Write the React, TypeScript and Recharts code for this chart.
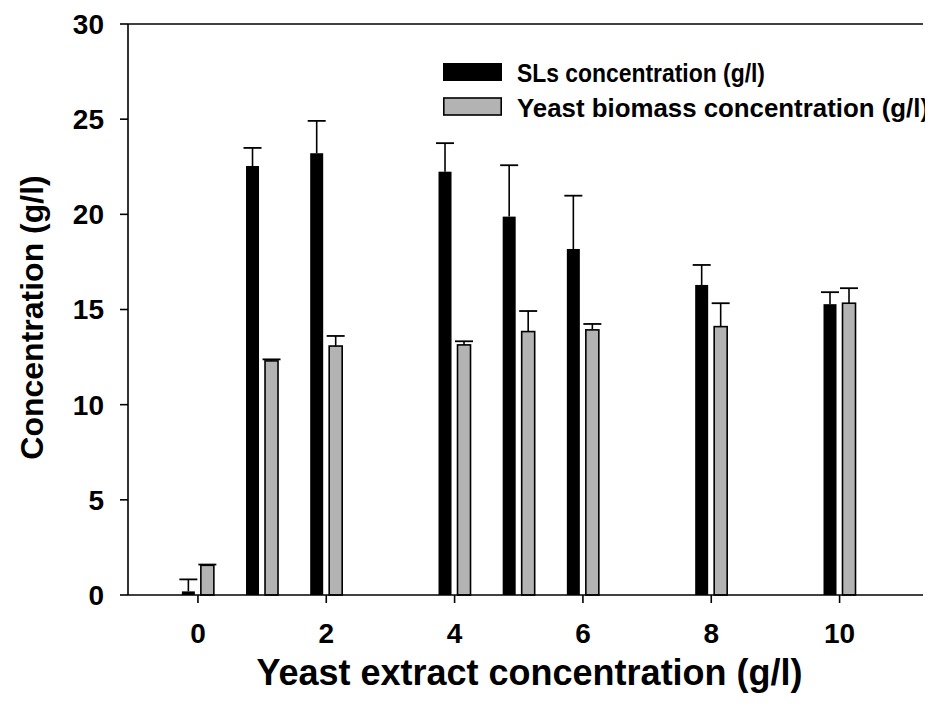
import React from "react";
import {
  ComposedChart,
  Bar,
  XAxis,
  YAxis,
  ReferenceLine,
  Legend,
} from "recharts";

// Yeast extract concentration (g/l) at which each pair of bars was measured
const yeastExtract = [0, 1, 2, 4, 5, 6, 8, 10];

// Sophorolipid (SLs) concentration, mean and standard deviation (g/l)
const slsMean = [0.19, 22.54, 23.21, 22.24, 19.88, 18.18, 16.29, 15.28];
const slsSd = [0.63, 0.95, 1.7, 1.5, 2.7, 2.8, 1.05, 0.63];

// Yeast biomass concentration, mean and standard deviation (g/l)
const biomassMean = [1.56, 12.3, 13.08, 13.14, 13.84, 13.93, 14.1, 15.33];
const biomassSd = [0.04, 0.08, 0.53, 0.19, 1.08, 0.31, 1.23, 0.79];

const xTicks = [0, 2, 4, 6, 8, 10];
const yTicks = [0, 5, 10, 15, 20, 25, 30];

const seriesNames = ["SLs concentration (g/l)", "Yeast biomass concentration (g/l)"];

const data = yeastExtract.map((x, i) => ({
  x,
  sls: slsMean[i],
  slsErr: slsSd[i],
  biomass: biomassMean[i],
  biomassErr: biomassSd[i],
}));

const FONT = "'Liberation Sans', Arial, Helvetica, sans-serif";

// Bar with an upward-only standard deviation whisker
const makeBarShape = (valueKey: string, errKey: string, fill: string, stroke?: string) =>
  (props: any) => {
    const { x, y, width, height, payload } = props;
    const value = payload[valueKey];
    const err = payload[errKey];
    const pxPerUnit = value ? height / value : 0;
    const errTop = y - err * pxPerUnit;
    const cx = x + width / 2;
    return (
      <g>
        <rect
          x={x}
          y={y}
          width={width}
          height={height}
          fill={fill}
          stroke={stroke || "none"}
          strokeWidth={stroke ? 1.6 : 0}
        />
        <line x1={cx} x2={cx} y1={y} y2={errTop} stroke="#000" strokeWidth={1.6} />
        <line x1={cx - 9} x2={cx + 9} y1={errTop} y2={errTop} stroke="#000" strokeWidth={1.8} />
      </g>
    );
  };

const slsShape = makeBarShape("sls", "slsErr", "#000000");
const biomassShape = makeBarShape("biomass", "biomassErr", "#b3b3b3", "#000000");

const LegendBox = () => (
  <svg width={500} height={60} style={{ display: "block", overflow: "visible" }}>
    <rect x={0} y={0} width={59} height={18} fill="#000000" />
    <text
      x={74}
      y={10}
      dominantBaseline="central"
      fontFamily={FONT}
      fontWeight="bold"
      fontSize={25}
      textLength={248}
      lengthAdjust="spacingAndGlyphs"
      fill="#000"
    >
      {seriesNames[0]}
    </text>
    <rect x={0.8} y={35} width={57.4} height={17} fill="#b3b3b3" stroke="#000" strokeWidth={1.6} />
    <text
      x={74}
      y={44.5}
      dominantBaseline="central"
      fontFamily={FONT}
      fontWeight="bold"
      fontSize={25}
      textLength={412}
      lengthAdjust="spacingAndGlyphs"
      fill="#000"
    >
      {seriesNames[1]}
    </text>
  </svg>
);

const YTitle = (props: any) => {
  const { viewBox } = props;
  const cx = 24;
  const cy = viewBox.y + viewBox.height / 2 + 8;
  return (
    <text
      x={cx}
      y={cy}
      transform={`rotate(-90, ${cx}, ${cy})`}
      textAnchor="middle"
      dominantBaseline="central"
      fontFamily={FONT}
      fontWeight="bold"
      fontSize={32}
      fill="#000"
    >
      Concentration (g/l)
    </text>
  );
};

const XTitle = (props: any) => {
  const { viewBox } = props;
  const cx = viewBox.x + viewBox.width / 2 + 4;
  const cy = 677;
  return (
    <text
      x={cx}
      y={cy}
      textAnchor="middle"
      fontFamily={FONT}
      fontWeight="bold"
      fontSize={36}
      fill="#000"
    >
      Yeast extract concentration (g/l)
    </text>
  );
};

const tickStyle = { fontFamily: FONT, fontWeight: "bold" as const, fontSize: 28, fill: "#000" };

export default function App() {
  return (
    <div style={{ width: 925, height: 709, background: "#fff", position: "relative" }}>
      <ComposedChart
        width={925}
        height={709}
        data={data}
        margin={{ top: 16, right: 10, left: 40, bottom: 62 }}
        barSize={13}
        barGap={6}
      >
        <XAxis
          dataKey="x"
          type="number"
          domain={[-1.09, 11.3]}
          ticks={xTicks}
          allowDataOverflow
          height={60}
          tickSize={8}
          tickMargin={20}
          axisLine={{ stroke: "#000", strokeWidth: 1.6 }}
          tickLine={{ stroke: "#000", strokeWidth: 1.6 }}
          tick={tickStyle}
          label={<XTitle />}
        />
        <YAxis
          type="number"
          domain={[0, 30]}
          ticks={yTicks}
          width={80}
          tickSize={8}
          tickMargin={16}
          axisLine={{ stroke: "#000", strokeWidth: 1.6 }}
          tickLine={{ stroke: "#000", strokeWidth: 1.6 }}
          tick={tickStyle}
          label={<YTitle />}
        />
        <ReferenceLine y={30} stroke="#000" strokeWidth={1.6} ifOverflow="visible" />
        <Bar
          dataKey="sls"
          name={seriesNames[0]}
          fill="#000000"
          shape={slsShape}
          isAnimationActive={false}
        />
        <Bar
          dataKey="biomass"
          name={seriesNames[1]}
          fill="#b3b3b3"
          shape={biomassShape}
          isAnimationActive={false}
        />
        <Legend
          layout="vertical"
          align="center"
          verticalAlign="middle"
          content={<LegendBox />}
          wrapperStyle={{ position: "absolute", top: 55, left: 435, width: 500, height: 60 }}
        />
      </ComposedChart>
    </div>
  );
}
